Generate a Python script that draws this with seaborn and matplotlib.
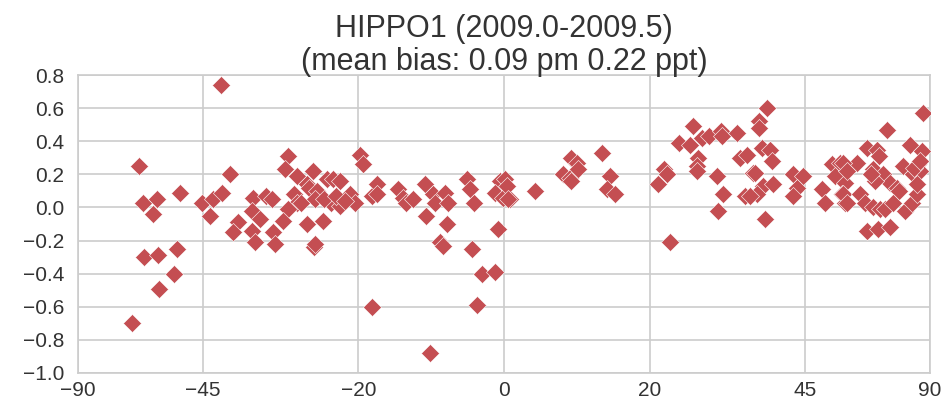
import numpy as np
import pandas as pd
import matplotlib
matplotlib.use("Agg")
import matplotlib.pyplot as plt
from matplotlib.ticker import NullLocator
import seaborn as sns

# Latitude (degrees N) of each HIPPO1 sample and the model-minus-observation bias (ppt)
latitude = [
    -60.9, -58.9, -57.9, -57.6, -55.6, -54.6, -54.4, -54.1, -50.8, -50.2, -49.5,
    -45.2, -43.6, -43.0, -41.6, -41.5, -40.0, -38.6, -39.5, -36.1, -36.3, -34.9,
    -33.9, -33.0, -36.3, -35.8, -32.8, -32.5, -30.4, -30.9, -29.1, -29.6, -29.1,
    -30.4, -31.2, -27.6, -27.6,
    -19.7, -19.4, -26.7, -27.3, -26.1, -26.3, -28.4, -24.6, -23.6, -22.6, -23.9,
    -22.6, -21.2, -20.5, -25.1, -26.5, -26.3, -18.1, -18.1, -17.4, -17.4, -14.4,
    -13.7, -25.0, -23.2, -21.9,
    -13.3, -12.3, -10.7, -9.6, -9.3, -8.0, -7.5, -10.5, -7.7, -8.6, -8.2, -5.0,
    -4.6, -4.0, -4.3, -3.0, -1.2, -3.7, -10.0, -0.8, -0.5, 0.1, -1.2, -0.1, 0.8,
    0.4, 0.5,
    4.2, 8.0, 8.9, 9.1, 9.8, 10.0, 9.1, 13.3, 14.4, 14.0, 15.1,
    22.9, 21.2, 22.0, 22.5, 26.4, 24.2, 25.9, 27.7, 28.7, 30.7, 30.8, 33.1, 27.1,
    26.9, 26.9, 30.0, 31.0, 30.2, 33.6, 34.7, 34.4, 35.8,
    38.1, 36.7, 36.7, 37.2, 38.6, 38.9, 36.1, 37.5, 39.2, 36.4, 35.3, 37.8, 42.8,
    44.6, 43.4, 42.8,
    48.2, 48.9, 50.3, 52.1, 51.0, 53.2, 52.4, 53.2, 79.8, 64.0, 72.4, 78.7, 58.4,
    61.0, 61.8, 55.9, 52.8, 60.1, 62.9, 69.6, 76.5, 73.9, 77.8, 65.0, 67.2, 68.0,
    53.6, 52.8, 53.6, 56.7, 57.9, 60.1, 62.0, 63.5, 66.1, 70.3, 73.1, 75.6, 75.6,
    74.5, 77.8, 58.4, 61.5, 65.0, 60.5, 59.5,
]
bias = [
    -0.70, 0.25, 0.03, -0.30, -0.04, 0.05, -0.29, -0.49, -0.40, -0.25, 0.09,
    0.03, -0.05, 0.05, 0.74, 0.09, 0.20, -0.09, -0.15, 0.06, -0.02, -0.07,
    0.07, 0.05, -0.14, -0.21, -0.15, -0.22, 0.31, 0.23, 0.19, 0.08, 0.03,
    -0.01, -0.08, 0.14, -0.10,
    0.32, 0.26, 0.22, 0.12, 0.10, 0.05, 0.03, 0.17, 0.17, 0.16, 0.03,
    0.01, 0.08, 0.03, -0.08, -0.24, -0.22, -0.60, 0.07, 0.14, 0.08, 0.11,
    0.06, 0.05, 0.07, 0.04,
    0.03, 0.05, 0.14, 0.08, 0.03, 0.09, 0.03, -0.05, -0.10, -0.21, -0.23, 0.17,
    0.11, 0.03, -0.25, -0.40, -0.39, -0.59, -0.88, -0.13, 0.16, 0.17, 0.09, 0.06, 0.05,
    0.13, 0.05,
    0.10, 0.20, 0.18, 0.30, 0.27, 0.23, 0.16, 0.33, 0.19, 0.11, 0.08,
    -0.21, 0.14, 0.23, 0.20, 0.49, 0.39, 0.38, 0.42, 0.43, 0.46, 0.43, 0.45, 0.30,
    0.25, 0.22, 0.19, 0.08, -0.02, 0.30, 0.32, 0.07, 0.21,
    0.60, 0.52, 0.48, 0.36, 0.35, 0.28, 0.21, 0.13, 0.14, 0.08, 0.07, -0.07, 0.20,
    0.19, 0.12, 0.07,
    0.11, 0.03, 0.26, 0.27, 0.19, 0.15, 0.08, 0.03, 0.57, 0.47, 0.38, 0.34, 0.36,
    0.35, 0.31, 0.27, 0.27, 0.23, 0.20, 0.25, 0.26, 0.20, 0.22, 0.15, 0.12, 0.10,
    0.22, 0.08, 0.03, 0.08, 0.03, 0.00, -0.01, -0.01, 0.03, -0.02, 0.03, 0.08, 0.14,
    0.24, 0.28, -0.14, -0.13, -0.12, 0.16, 0.20,
]

lat_ticks = [-90, -45, -20, 0, 20, 45, 90]
bias_ticks = [0.8, 0.6, 0.4, 0.2, 0.0, -0.2, -0.4, -0.6, -0.8, -1.0]
title_text = "HIPPO1 (2009.0-2009.5)\n(mean bias: 0.09 pm 0.22 ppt)"

df = pd.DataFrame({"lat": latitude, "bias": bias})

sns.set_theme(style="whitegrid")
plt.rcParams["font.family"] = ["Liberation Sans", "DejaVu Sans"]
plt.rcParams["axes.edgecolor"] = "#cccccc"
plt.rcParams["grid.color"] = "#cccccc"

fig = plt.figure(figsize=(9.48, 4.08), dpi=100)
ax = fig.add_axes([0.0823, 0.0858, 0.8987, 0.7302])

# area-weighted latitude axis: positions follow sin(latitude)
def to_sine(x):
    return np.sin(np.deg2rad(x))

def from_sine(y):
    return np.rad2deg(np.arcsin(np.clip(y, -1.0, 1.0)))

ax.set_xscale("function", functions=(to_sine, from_sine))

sns.scatterplot(data=df, x="lat", y="bias", marker="D", s=85,
                color="#c44e52", edgecolor="white", linewidth=0.4,
                ax=ax, zorder=3)

ax.set_xlim(-90, 90)
ax.set_ylim(-1.0, 0.8)
ax.set_xticks(lat_ticks)
ax.set_xticklabels([str(t).replace("-", "\u2212") for t in lat_ticks])
ax.xaxis.set_minor_locator(NullLocator())
ax.set_yticks(bias_ticks)
ax.set_yticklabels([f"{t:.1f}".replace("-", "\u2212") for t in bias_ticks])
ax.tick_params(labelsize=15, colors="#333333", length=0)
ax.tick_params(axis="y", pad=10)
ax.tick_params(axis="x", pad=6)
ax.set_xlabel("")
ax.set_ylabel("")
for sp in ax.spines.values():
    sp.set_color("#cccccc")
    sp.set_linewidth(1.2)
ax.grid(True, color="#cccccc", linewidth=1.2)
ax.set_title(title_text, fontsize=22, color="#333333", pad=4, linespacing=1.1)

fig.savefig("out.png", dpi=100)
